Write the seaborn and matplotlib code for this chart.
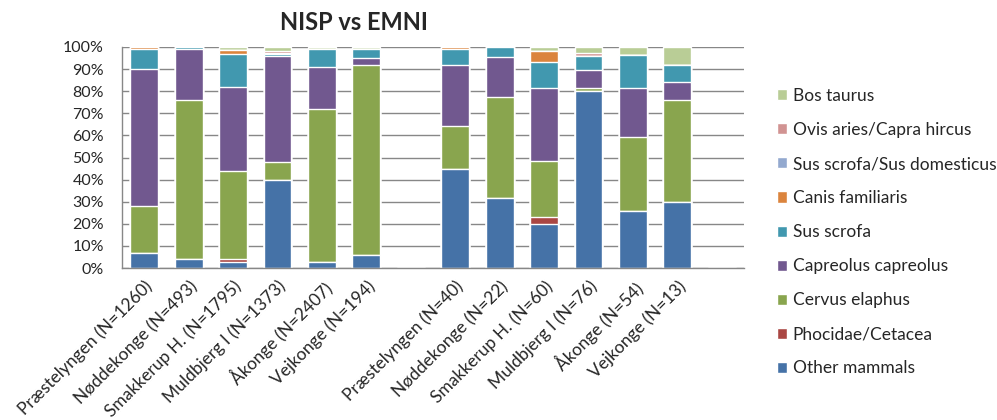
import matplotlib
matplotlib.use("Agg")
import matplotlib.pyplot as plt
import seaborn as sns
import pandas as pd

sns.set_style("white")
plt.rcParams['font.family'] = ['Lato', 'DejaVu Sans']

# bar labels (NISP group, then EMNI group)
nisp_sites = ["Præstelyngen (N=1260)", "Nøddekonge (N=493)", "Smakkerup H. (N=1795)",
              "Muldbjerg I (N=1373)", "Åkonge (N=2407)", "Vejkonge (N=194)"]
emni_sites = ["Præstelyngen (N=40)", "Nøddekonge (N=22)", "Smakkerup H. (N=60)",
              "Muldbjerg I (N=76)", "Åkonge (N=54)", "Vejkonge (N=13)"]

species = ["Other mammals", "Phocidae/Cetacea", "Cervus elaphus", "Capreolus capreolus",
           "Sus scrofa", "Canis familiaris", "Sus scrofa/Sus domesticus",
           "Ovis aries/Capra hircus", "Bos taurus"]
colors = ["#4572A7", "#AA4643", "#89A54E", "#71588F", "#4198AF",
          "#DB843D", "#93A9CF", "#D19392", "#B9CD96"]

# percentages per bar, same order as nisp_sites + emni_sites
other_mammals = [6.7, 3.9, 2.9, 40.0, 2.9, 5.9, 45.0, 31.8, 20.0, 80.3, 25.9, 30.0]
phocidae = [0, 0, 1.0, 0, 0, 0, 0, 0, 3.3, 0, 0, 0]
cervus = [21.2, 72.0, 40.2, 8.0, 69.2, 86.1, 19.2, 45.5, 25.0, 1.3, 33.3, 46.0]
capreolus = [62.0, 23.0, 37.9, 47.8, 18.8, 2.8, 27.8, 18.2, 33.3, 7.9, 22.2, 8.0]
sus_scrofa = [9.1, 1.1, 15.0, 1.2, 8.0, 4.1, 7.0, 4.5, 11.7, 6.6, 14.8, 8.0]
canis = [1.1, 0, 1.8, 0, 0, 0, 1.0, 0, 5.0, 0, 0, 0]
sus_dom = [0, 0, 0, 0.3, 0, 0, 0, 0, 0, 0, 0, 0]
ovis_capra = [0, 0, 0, 0.9, 0, 0, 0, 0, 0, 1.3, 0, 0]
bos = [0, 0, 1.2, 1.8, 1.1, 1.1, 0, 0, 1.7, 2.6, 3.7, 8.0]

series = [other_mammals, phocidae, cervus, capreolus, sus_scrofa, canis, sus_dom, ovis_capra, bos]

# two empty slots: gap between groups and one at the end
slots = nisp_sites + [" "] + emni_sites + ["  "]
df = pd.DataFrame(dict(zip(species, series)), index=nisp_sites + emni_sites)
df = df.reindex(slots).fillna(0)
cum = df.cumsum(axis=1)

fig, ax = plt.subplots(figsize=(9.97, 4.2), dpi=100)
fig.subplots_adjust(left=122/997, right=744/997, top=1-47/420, bottom=1-268/420)

# stacked bars: draw cumulative totals from the top species down
for sp, col in reversed(list(zip(species, colors))):
    sns.barplot(x=slots, y=cum[sp].values, order=slots, color=col, width=0.63,
                saturation=1, errorbar=None, label=sp, ax=ax)

if ax.get_legend() is not None:
    ax.get_legend().remove()

ax.set_ylim(0, 100)
ax.set_xlim(-0.5, len(slots) - 0.5)
ax.set_yticks(range(0, 101, 10))
ax.set_yticklabels([f"{v}%" for v in range(0, 101, 10)], fontsize=11.5)
ax.yaxis.grid(True, color="#878787", lw=1)
ax.set_axisbelow(True)
ax.tick_params(axis="y", length=0, pad=13)
ax.tick_params(axis="x", length=0, pad=7)
ax.set_xticks(range(len(slots)))
ax.set_xticklabels(slots, rotation=45, ha="right", va="top",
                   rotation_mode="anchor", fontsize=12.5)
for s in ["top", "right"]:
    ax.spines[s].set_visible(False)
for s in ["left", "bottom"]:
    ax.spines[s].set_color("#878787")
    ax.spines[s].set_linewidth(1)

fig.text(354/997, 1-22/420, "NISP vs EMNI", ha="center", va="center",
         fontsize=17, fontweight="bold")

handles, labels = ax.get_legend_handles_labels()
fig.legend(handles, labels, loc="upper left", bbox_to_anchor=(770/997, 1-81/420),
           frameon=False, fontsize=12.5, handlelength=0.6, handleheight=0.6,
           handletextpad=0.3, labelspacing=1.04, borderaxespad=0)

plt.savefig("out.png", dpi=100)
plt.close()
